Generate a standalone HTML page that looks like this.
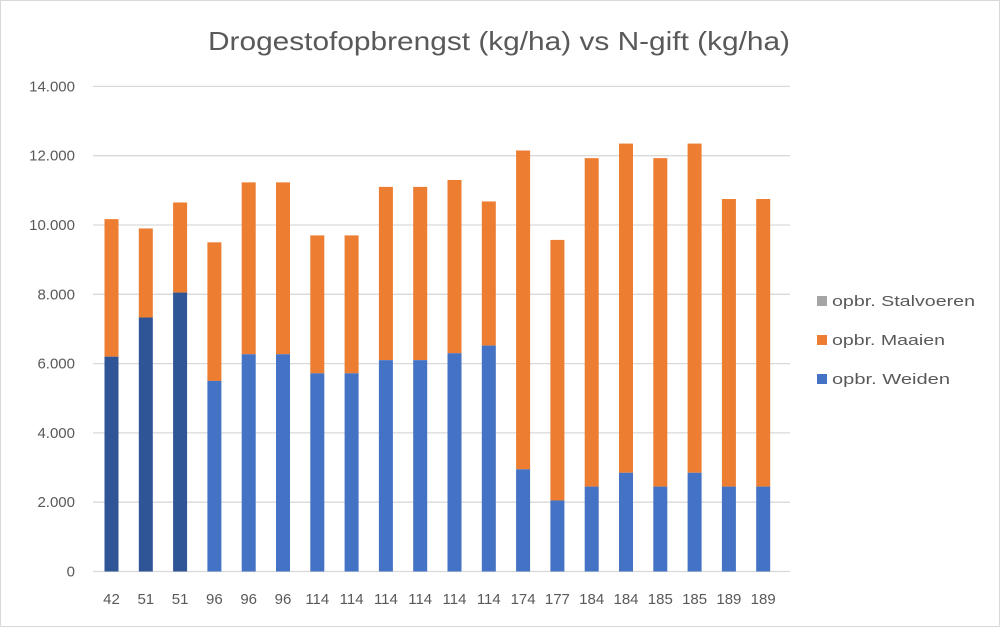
<!DOCTYPE html>
<html><head><style>
body{margin:0;background:#fff;}
svg{display:block;font-family:"Liberation Sans",sans-serif;}
</style></head><body>
<svg width="1000" height="627" viewBox="0 0 1000 627">
<rect x="0.5" y="0.5" width="999" height="626" fill="#fff" stroke="#d9d9d9"/>
<text x="208" y="50" font-size="26" fill="#595959" textLength="582" lengthAdjust="spacingAndGlyphs">Drogestofopbrengst (kg/ha) vs N-gift (kg/ha)</text>
<g id="grid" stroke="#d9d9d9" stroke-width="1.3"></g>
<g id="bars"></g>
<g id="labels" font-size="15" fill="#595959"></g>
<g font-size="15" fill="#595959">
<rect x="817" y="296" width="10" height="10" fill="#a5a5a5"/><text x="832" y="306" textLength="143" lengthAdjust="spacingAndGlyphs">opbr. Stalvoeren</text>
<rect x="817" y="335" width="10" height="10" fill="#ed7d31"/><text x="832" y="345" textLength="113" lengthAdjust="spacingAndGlyphs">opbr. Maaien</text>
<rect x="817" y="374" width="10" height="10" fill="#4472c4"/><text x="832" y="384" textLength="118" lengthAdjust="spacingAndGlyphs">opbr. Weiden</text>
</g>
</svg>
<script>
var ns="http://www.w3.org/2000/svg";
function el(p,t,a,txt){var e=document.createElementNS(ns,t);for(var k in a)e.setAttribute(k,a[k]);if(txt!==undefined)e.textContent=txt;document.getElementById(p).appendChild(e);}
var y0=571.5,s=69.3/2000;
for(var v=0;v<=14000;v+=2000){var y=y0-v*s;
 if(v>0)el("grid","line",{x1:93,x2:790,y1:y,y2:y});
 el("labels","text",{x:75,y:y+5,"text-anchor":"end"},v==0?"0":(v/1000)+".000");}
el("grid","line",{x1:93,x2:790,y1:y0,y2:y0});
var d=[[42,6200,10170],[51,7330,9900],[51,8050,10650],[96,5500,9500],[96,6270,11230],[96,6270,11230],[114,5720,9700],[114,5720,9700],[114,6100,11100],[114,6100,11100],[114,6300,11300],[114,6520,10680],[174,2950,12150],[177,2050,9570],[184,2450,11930],[184,2850,12350],[185,2450,11930],[185,2850,12350],[189,2450,10750],[189,2450,10750]];
d.forEach(function(r,i){var c=111.5+i*34.3,w=14,x=c-w/2;
 var bc=i<3?"#2f5597":"#4472c4";
 el("bars","rect",{x:x,y:y0-r[2]*s,width:w,height:(r[2]-r[1])*s,fill:"#ed7d31"});
 el("bars","rect",{x:x,y:y0-r[1]*s,width:w,height:r[1]*s,fill:bc});
 el("labels","text",{x:c,y:604,"text-anchor":"middle"},String(r[0]));});
</script>
</body></html>
